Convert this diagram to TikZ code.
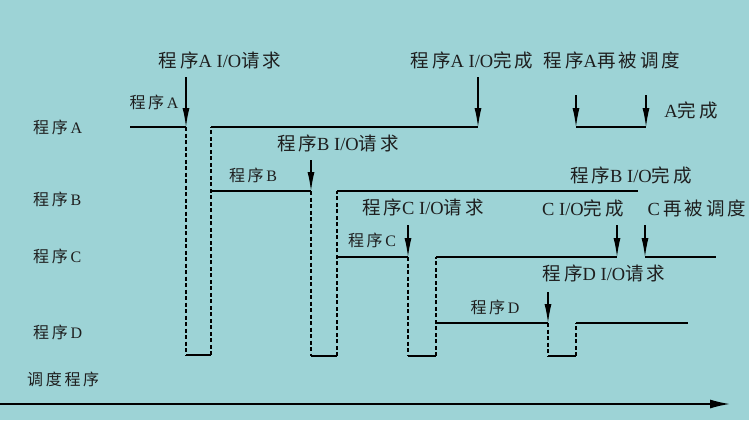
\documentclass[tikz,border=0pt]{standalone}
\usepackage{fontspec}
\setmainfont{Liberation Serif}
\newfontfamily\cjk{Noto Sans CJK SC}
\usetikzlibrary{arrows.meta,scopes}
\definecolor{bgteal}{RGB}{157,211,214}
\definecolor{ink}{RGB}{30,30,30}
\newcommand{\zh}[1]{{\cjk #1}}
\begin{document}
\begin{tikzpicture}[x=1pt,y=-1pt,
    >={Latex[length=19pt,width=7pt]},
    run/.style={draw=black,line width=1.6pt},
    wait/.style={draw=black,line width=1.1pt,dash pattern=on 4pt off 2.5pt},
    io/.style={->,draw=black,line width=1.2pt},
    big/.style={font=\fontsize{18.5}{21}\selectfont,text=ink,inner sep=0pt},
    small/.style={font=\fontsize{16}{19}\selectfont,text=ink,inner sep=0pt},
]
	\fill[bgteal] (0,0) rectangle (749,420);
	\useasboundingbox (0,0) rectangle (749,420);
	{[small]
	\node[anchor=west] (nameA) at (33,127) {\zh{程\,序}\,A};
	\node[anchor=west] (nameB) at (33,199) {\zh{程\,序}\,B};
	\node[anchor=west] (nameC) at (33,256) {\zh{程\,序}\,C};
	\node[anchor=west] (nameD) at (33,332) {\zh{程\,序}\,D};
	\node[anchor=west] (sched) at (27,379) {\zh{调\,度\,程\,序}};
	\node (runA) at (154,102) {\zh{程\,序}\,A}; % running
	\node (runB) at (253,175) {\zh{程\,序}\,B};
	\node (runC) at (372,240) {\zh{程\,序}\,C};
	\node (runD) at (495,307) {\zh{程\,序}\,D};
	}
	{[big]
	\node (reqA) at (220,60) {\zh{程\,序}A I/O\zh{请\,求}};
	\node (endA) at (472,60) {\zh{程\,序}A I/O\zh{完\,成}};
	\node (againA) at (612,60) {\zh{程\,序}A\zh{再\,被\,调\,度}};
	\node (doneA) at (691,110) {A\zh{完\,成}};
	\node (reqB) at (338,143) {\zh{程\,序}B I/O\zh{请\,求}};
	\node (endB) at (631,175) {\zh{程\,序}B I/O\zh{完\,成}};
	\node (reqC) at (423,207) {\zh{程\,序}C I/O\zh{请\,求}};
	\node (endC) at (583,208) {C I/O\zh{完\,成}};
	\node (againC) at (697,208) {C\,\zh{再\,被\,调\,度}};
	\node (reqD) at (604,273) {\zh{程\,序}D I/O\zh{请\,求}};
	}
	% program A
	\draw[run] (130,127) -- (186,127);
	\draw[wait] (186,127) -- (186,355);
	\draw[run] (186,355) -- (211,355);
	\draw[wait] (211,355) -- (211,127);
	\draw[run] (211,127) -- (478,127);
	\draw[run] (576,127) -- (646,127);
	% program B
	\draw[run] (211,191) -- (311,191);
	\draw[wait] (311,191) -- (311,356);
	\draw[run] (311,356) -- (337,356);
	\draw[wait] (337,356) -- (337,191);
	\draw[run] (337,191) -- (638,191);
	% program C
	\draw[run] (337,257) -- (408,257);
	\draw[wait] (408,257) -- (408,356);
	\draw[run] (408,356) -- (436,356);
	\draw[wait] (436,356) -- (436,257);
	\draw[run] (436,257) -- (617,257);
	\draw[run] (645,257) -- (716,257);
	% program D
	\draw[run] (436,323) -- (548,323);
	\draw[wait] (548,323) -- (548,356);
	\draw[run] (548,356) -- (576,356);
	\draw[wait] (576,356) -- (576,323);
	\draw[run] (576,323) -- (688,323);
	{[io]
	\draw (186,77) -- (186,127); % A request
	\draw (478,77) -- (478,127); % A done
	\draw (576,95) -- (576,127); % A again
	\draw (646,95) -- (646,127); % A finished
	\draw (311,160) -- (311,191); % B request
	\draw (408,225) -- (408,257); % C request
	\draw (617,225) -- (617,257); % C done
	\draw (645,225) -- (645,257); % C again
	\draw (548,292) -- (548,323); % D request
	}
	\draw[-{Latex[length=20pt,width=9pt]},line width=1.6pt] (0,404) -- (730,404); % time
\end{tikzpicture}
\end{document}
